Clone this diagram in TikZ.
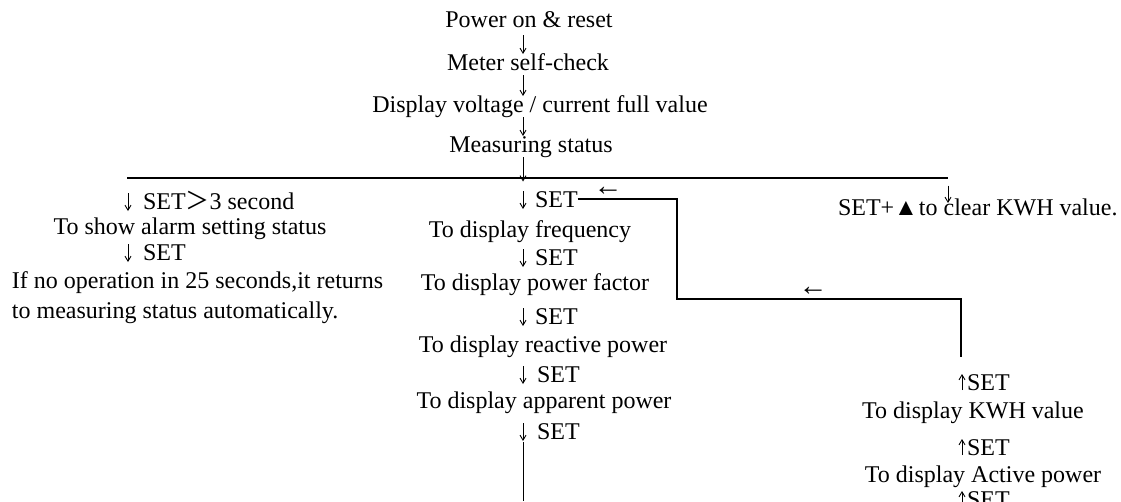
\documentclass[tikz,border=0pt]{standalone}
\usepackage{fontspec}
\setmainfont{Liberation Serif}
\newfontfamily\cjkfont{Noto Sans CJK SC}
\usetikzlibrary{arrows.meta}
\begin{document}
\begin{tikzpicture}[x=1pt,y=-1pt,
  txt/.style={inner sep=0pt, outer sep=0pt, text height=16pt, text depth=5pt, font=\fontsize{24}{28}\selectfont},
  gly/.style={inner sep=0pt, outer sep=0pt, font=\fontsize{29}{32}\selectfont},
  arr/.style={line width=0.9pt, -{Straight Barb[length=5pt,width=6pt]}},
  wire/.style={line width=1.6pt},
  barline/.style={line width=2pt},
  plain/.style={line width=0.9pt}
]
\useasboundingbox (0,0) rectangle (1121,501);
\clip (0,0) rectangle (1121,501);

% top chain
\node[txt,anchor=base] (pw) at (529,27) {Power on \& reset};
\node[txt,anchor=base] (mc) at (528,70) {Meter self-check};
\node[txt,anchor=base] (dv) at (540,112) {Display voltage / current full value};
\node[txt,anchor=base] (ms) at (531,152) {Measuring status};

\coordinate (xm) at (523,0);
\coordinate (xl) at (128,0);
\coordinate (xr) at (962,0);
\coordinate (barL) at (127,177.5);
\coordinate (barR) at (948,177.5);

\draw[barline] (barL) -- (barR);
\draw[arr, shorten <=3pt] (pw.south -| xm) -- (mc.north -| xm);
\draw[arr] (mc.south -| xm) -- (dv.north -| xm);
\draw[arr] (dv.south -| xm) -- (ms.north -| xm);
\draw[arr, shorten >=-4pt] (ms.south -| xm) -- (barL -| xm);

% left branch
\node[txt,anchor=base west] (l1) at (143,209) {SET{\cjkfont ＞}3 second};
\node[txt,anchor=base] (l2) at (190,234) {To show alarm setting status};
\node[txt,anchor=base west] (l3) at (143,260) {SET};
\node[txt,anchor=base west] (l4) at (12,288) {If no operation in 25 seconds,it returns};
\node[txt,anchor=base west] (l5) at (12,318) {to measuring status automatically.};
\draw[arr, shorten >=3pt] (l1.north -| xl) -- (l1.south -| xl);
\draw[arr, shorten >=3pt] (l3.north -| xl) -- (l3.south -| xl);

% middle branch
\node[txt,anchor=base west] (m1) at (535,207) {SET};
\node[txt,anchor=base] (f1) at (530,237) {To display frequency};
\node[txt,anchor=base west] (m2) at (535,265) {SET};
\node[txt,anchor=base] (f2) at (535,290) {To display power factor};
\node[txt,anchor=base west] (m3) at (535,324) {SET};
\node[txt,anchor=base] (f3) at (543,352) {To display reactive power};
\node[txt,anchor=base west] (m4) at (537,382) {SET};
\node[txt,anchor=base] (f4) at (544,408) {To display apparent power};
\node[txt,anchor=base west] (m5) at (537,439) {SET};
\draw[arr, shorten >=3pt] (m1.north -| xm) -- (m1.south -| xm);
\draw[arr, shorten >=3pt] (m2.north -| xm) -- (m2.south -| xm);
\draw[arr, shorten >=3pt] (m3.north -| xm) -- (m3.south -| xm);
\draw[arr, shorten >=3pt] (m4.north -| xm) -- (m4.south -| xm);
\draw[arr, shorten >=3pt] (m5.north -| xm) -- (m5.south -| xm);
\coordinate (bot) at (523,501);
\draw[plain] ([yshift=2pt]m5.south -| xm) -- (bot);

% loop back
\coordinate (lpa) at (677,299);
\coordinate (lpb) at (961,299);
\coordinate (lpc) at (961,357);
\draw[wire] ([yshift=2.5pt]m1.east) -| (lpa) -- (lpb) -- (lpc);
\node[gly] (g1) at (608,191) {←};
\node[gly] (g2) at (813,291) {←};

% right branch
\node[txt,anchor=base west] (clr) at (838,215) {SET+▲\kern-5pt{} to clear KWH value.};
\draw[arr, shorten <=8pt, shorten >=-4pt] (barR) -- (clr.north -| barR);

\node[txt,anchor=base west] (r1) at (967,390) {SET};
\node[txt,anchor=base] (k1) at (973,418) {To display KWH value};
\node[txt,anchor=base west] (r2) at (967,455) {SET};
\node[txt,anchor=base] (k2) at (983,482) {To display Active power};
\node[txt,anchor=base west] (r3) at (967,507) {SET};
\draw[arr, shorten <=5pt] (r1.south -| xr) -- (r1.north -| xr);
\draw[arr, shorten <=5pt] (r2.south -| xr) -- (r2.north -| xr);
\draw[arr, shorten <=5pt] (r3.south -| xr) -- (r3.north -| xr);
\end{tikzpicture}
\end{document}
